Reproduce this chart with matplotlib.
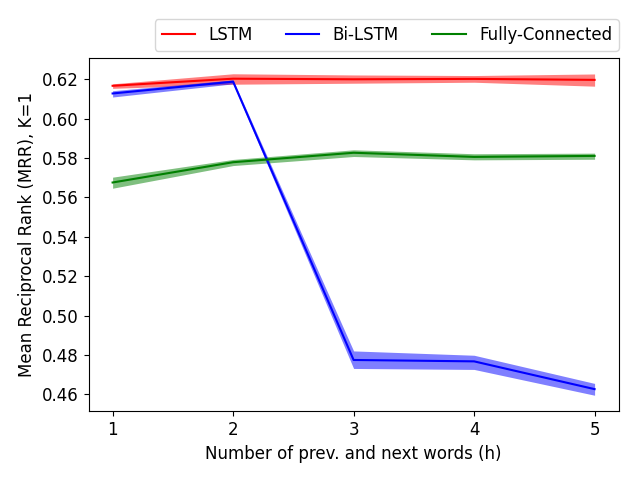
import matplotlib
matplotlib.use("Agg")
import matplotlib.pyplot as plt

# context size h
h = [1, 2, 3, 4, 5]

# mean MRR and band (lower, upper)
lstm = [0.6167, 0.6203, 0.6200, 0.6202, 0.6197]
lstm_lo = [0.6154, 0.6175, 0.6180, 0.6185, 0.6165]
lstm_hi = [0.6177, 0.6228, 0.6222, 0.6219, 0.6227]

bilstm = [0.6128, 0.6188, 0.4775, 0.4768, 0.4627]
bilstm_lo = [0.6110, 0.6177, 0.4732, 0.4727, 0.4596]
bilstm_hi = [0.6142, 0.6197, 0.4821, 0.4799, 0.4656]

fc = [0.5676, 0.5779, 0.5827, 0.5806, 0.5811]
fc_lo = [0.5647, 0.5762, 0.5808, 0.5791, 0.5794]
fc_hi = [0.5703, 0.5793, 0.5842, 0.5822, 0.5825]

plt.rcParams['font.size'] = 12

fig = plt.figure(figsize=(6.4, 4.8), dpi=100)
ax = fig.add_subplot(111)
fig.subplots_adjust(left=0.1383, right=0.9667, bottom=0.1431, top=0.8798)

ax.plot(h, lstm, color='red', lw=1.5, label='LSTM')
ax.fill_between(h, lstm_lo, lstm_hi, color='red', alpha=0.5, lw=0)
ax.plot(h, bilstm, color='blue', lw=1.5, label='Bi-LSTM')
ax.fill_between(h, bilstm_lo, bilstm_hi, color='blue', alpha=0.5, lw=0)
ax.plot(h, fc, color='green', lw=1.5, label='Fully-Connected')
ax.fill_between(h, fc_lo, fc_hi, color='green', alpha=0.5, lw=0)

ax.set_xticks(h)
ax.set_xlabel('Number of prev. and next words (h)')
ax.set_ylabel('Mean Reciprocal Rank (MRR), K=1')
ax.legend(ncol=3, loc='lower right', bbox_to_anchor=(1.0, 1.02), borderaxespad=0)

fig.savefig('out.png')
